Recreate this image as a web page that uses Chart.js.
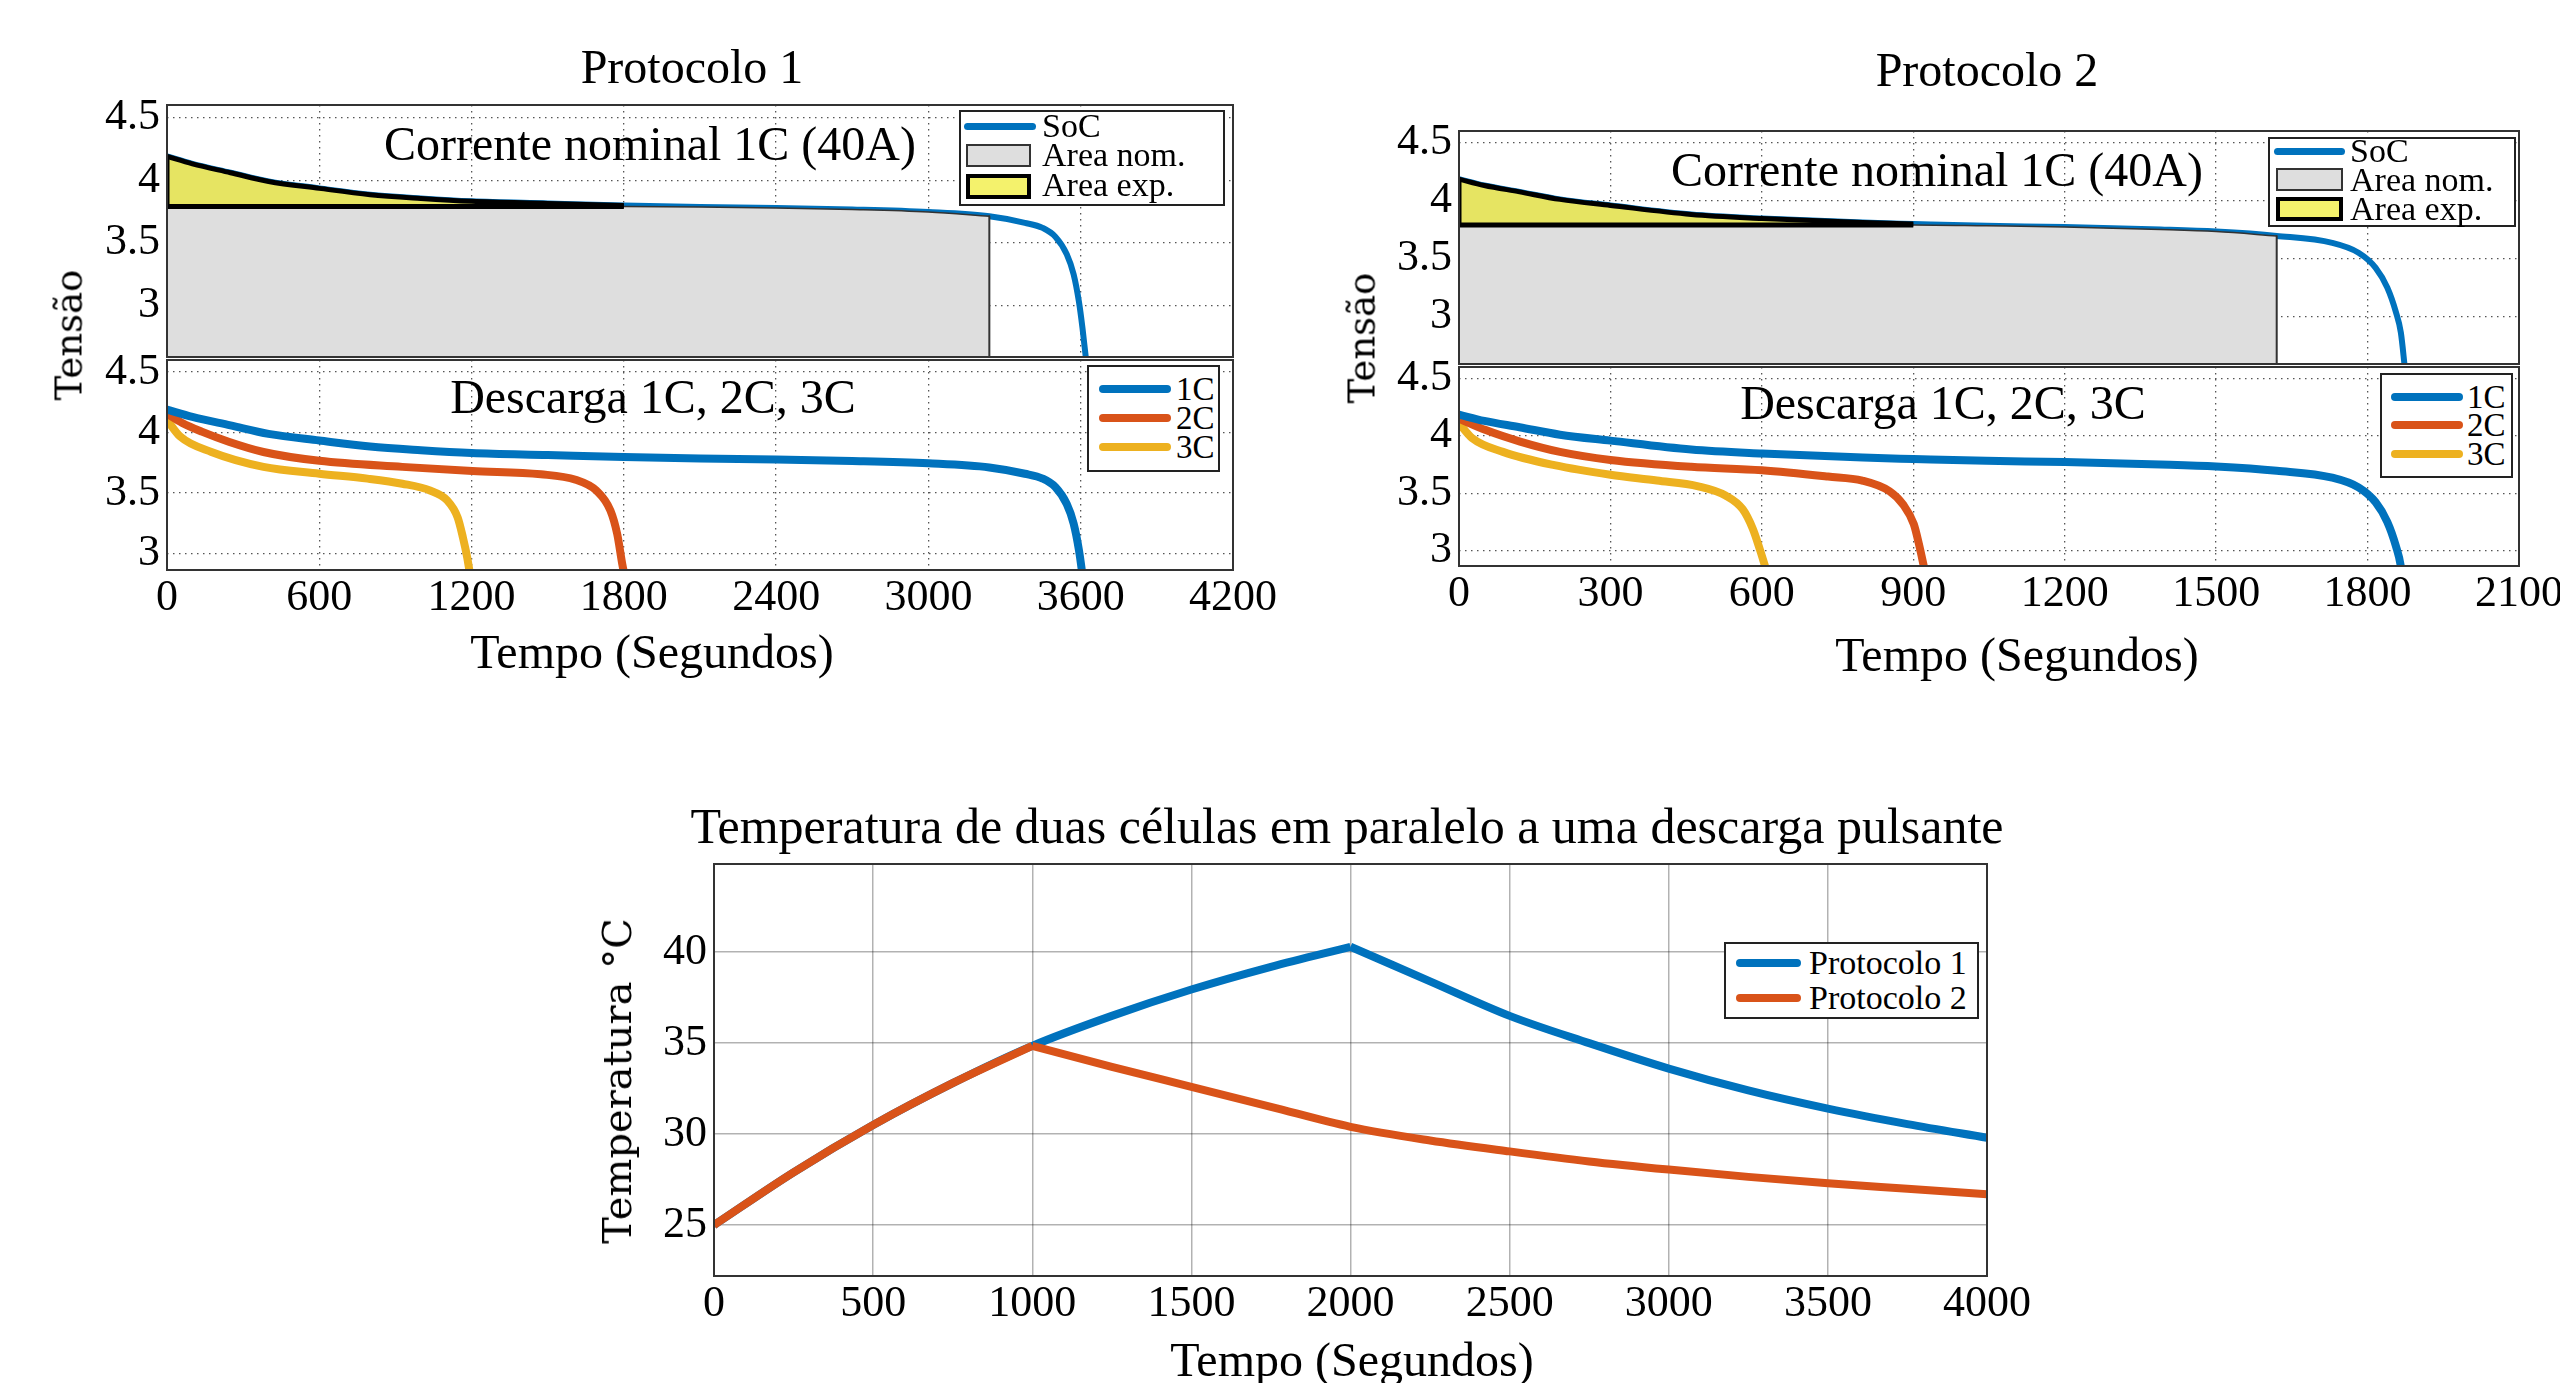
<!DOCTYPE html>
<html>
<head>
<meta charset="utf-8">
<script src="https://cdn.jsdelivr.net/npm/chart.js@4.4.0/dist/chart.umd.min.js"></script>
<style>
html, body { margin: 0; padding: 0; background: #fff; width: 2560px; height: 1383px; overflow: hidden; position: relative; }
canvas { position: absolute; }
.t { position: absolute; transform: translate(-50%, -50%); white-space: nowrap; font-family: 'Liberation Serif', serif; color: #000; line-height: 1; z-index: 5; }
.rot { transform: translate(-50%, -50%) rotate(-90deg); font-family: 'DejaVu Serif', serif; }
.leg { position: absolute; border: 2px solid #222; background: #fff; box-sizing: border-box; z-index: 6; }
.sw { position: absolute; box-sizing: border-box; z-index: 7; }
.lt { position: absolute; transform: translateY(-50%); font-family: 'Liberation Serif', serif; line-height: 1; white-space: nowrap; z-index: 7; }
</style>
</head>
<body>
<script>
// ---- data: Protocolo 1 (tempo em s, tensão em V)
const p1Time1C = [0, 100, 250, 400, 600, 800, 1000, 1200, 1500, 1800, 2100, 2400, 2700, 3000, 3240, 3380, 3450, 3500, 3545, 3572, 3593, 3607, 3622];
const p1Volt1C = [4.19, 4.13, 4.06, 3.99, 3.935, 3.885, 3.855, 3.832, 3.815, 3.798, 3.786, 3.778, 3.766, 3.746, 3.712, 3.66, 3.62, 3.55, 3.41, 3.25, 3.03, 2.82, 2.55];
const p1Time2C = [0, 60, 137, 243, 380, 600, 927, 1203, 1473, 1610, 1692, 1747, 1774, 1794, 1805];
const p1Volt2C = [4.156, 4.08, 4.008, 3.925, 3.84, 3.767, 3.717, 3.683, 3.656, 3.61, 3.52, 3.356, 3.16, 2.91, 2.80];
const p1Time3C = [0, 52, 175, 380, 600, 790, 927, 1036, 1104, 1145, 1166, 1183, 1196];
const p1Volt3C = [4.105, 3.967, 3.84, 3.717, 3.661, 3.62, 3.578, 3.522, 3.44, 3.3, 3.133, 2.967, 2.80];
const p1NomLevel = 3.79;
const p1NomEnd = 3240;
const p1ExpEnd = 1800;
const p1XTicks = [0, 600, 1200, 1800, 2400, 3000, 3600, 4200];

// ---- data: Protocolo 2
const p2Time1C = [0, 50, 120, 200, 300, 460, 600, 800, 900, 1045, 1200, 1390, 1500, 1620, 1730, 1782, 1816, 1839, 1856, 1866, 1874];
const p2Volt1C = [4.185, 4.13, 4.075, 4.01, 3.958, 3.88, 3.845, 3.81, 3.798, 3.782, 3.772, 3.75, 3.732, 3.695, 3.635, 3.55, 3.42, 3.25, 3.04, 2.86, 2.55];
const p2Time2C = [0, 53, 121, 200, 300, 460, 600, 731, 799, 853, 880, 901, 911, 922];
const p2Volt2C = [4.15, 4.05, 3.95, 3.86, 3.79, 3.73, 3.70, 3.645, 3.61, 3.517, 3.40, 3.23, 3.06, 2.84];
const p2Time3C = [0, 26, 87, 189, 300, 392, 474, 528, 562, 582, 596, 608];
const p2Volt3C = [4.11, 3.98, 3.86, 3.744, 3.66, 3.61, 3.56, 3.48, 3.36, 3.19, 3.01, 2.84];
const p2NomLevel = 3.79;
const p2NomEnd = 1620;
const p2ExpEnd = 900;
const p2XTicks = [0, 300, 600, 900, 1200, 1500, 1800, 2100];

const voltTicks = [3, 3.5, 4, 4.5];

// ---- data: temperatura
const tempTime = [0, 250, 500, 750, 1000, 1250, 1500, 1750, 2000, 2250, 2500, 2750, 3000, 3250, 3500, 3750, 4000];
const tempP1 = [25.0, 27.9, 30.5, 32.8, 34.85, 36.5, 37.95, 39.2, 40.3, 38.4, 36.5, 35.0, 33.6, 32.4, 31.4, 30.55, 29.8];
const tempP2 = [25.0, 27.9, 30.5, 32.8, 34.85, 33.7, 32.6, 31.5, 30.4, 29.65, 29.05, 28.5, 28.05, 27.65, 27.3, 27.0, 26.7];
const tempXTicks = [0, 500, 1000, 1500, 2000, 2500, 3000, 3500, 4000];
const tempYTicks = [25, 30, 35, 40];

const BLUE = '#0072BD', ORANGE = '#D95319', GOLD = '#EDB120';
const GRAY_AREA = '#dedede', YELLOW_AREA = '#e6e462';

function curve(ts, vs) {
    return ts.map((t, i) => ({ x: t, y: vs[i] }));
}

// split a series at its maximum so each part can use monotone smoothing
function rising(ts, vs) {
    const k = vs.indexOf(Math.max(...vs));
    return curve(ts, vs).slice(0, k + 1);
}
function falling(ts, vs) {
    const k = vs.indexOf(Math.max(...vs));
    return curve(ts, vs).slice(k);
}

const boxPlugin = {
    id: 'box',
    afterDraw(chart) {
        const a = chart.chartArea;
        const c = chart.ctx;
        c.save();
        c.strokeStyle = '#333';
        c.lineWidth = 2;
        c.strokeRect(a.left, a.top, a.right - a.left, a.bottom - a.top);
        c.restore();
    }
};

const tickFont = { family: "'Liberation Serif', serif", size: 44 };

function makeChart(rect, cfg) {
    const padL = 110, padT = 40, padR = 70;
    const padB = cfg.xLabels ? 75 : 40;
    const cv = document.createElement('canvas');
    cv.width = rect.right - rect.left + padL + padR;
    cv.height = rect.bottom - rect.top + padT + padB;
    cv.style.left = (rect.left - padL) + 'px';
    cv.style.top = (rect.top - padT) + 'px';
    document.body.appendChild(cv);

    const gridOpts = { color: cfg.gridColor, lineWidth: cfg.gridWidth, drawTicks: false };
    return new Chart(cv, {
        type: 'scatter',
        data: { datasets: cfg.datasets },
        options: {
            responsive: false,
            animation: false,
            events: [],
            layout: { padding: { left: 0, top: padT, right: padR, bottom: cfg.xLabels ? 0 : padB } },
            plugins: { legend: { display: false }, tooltip: { enabled: false } },
            scales: {
                x: {
                    type: 'linear',
                    min: cfg.xMin, max: cfg.xMax,
                    afterBuildTicks: s => { s.ticks = cfg.xTicks.map(v => ({ value: v })); },
                    afterFit: s => { s.height = cfg.xLabels ? padB : 0; },
                    ticks: { display: cfg.xLabels, font: tickFont, color: '#000', padding: 2, maxRotation: 0, autoSkip: false, callback: v => String(v) },
                    grid: gridOpts,
                    border: { display: false, dash: cfg.dash }
                },
                y: {
                    type: 'linear',
                    min: cfg.yMin, max: cfg.yMax,
                    afterBuildTicks: s => { s.ticks = cfg.yTicks.map(v => ({ value: v })); },
                    afterFit: s => { s.width = padL; },
                    ticks: { font: tickFont, color: '#000', padding: 7, callback: v => String(v) },
                    grid: gridOpts,
                    border: { display: false, dash: cfg.dash }
                }
            }
        },
        plugins: [boxPlugin]
    });
}

function line(data, color, width, order, smooth) {
    const ds = { data, showLine: true, borderColor: color, borderWidth: width, pointRadius: 0, fill: false, order,
        borderJoinStyle: 'round' };
    if (smooth) ds.cubicInterpolationMode = 'monotone';
    return ds;
}

function topPanel(rect, ts, vs, level, nomEnd, expEnd, xMax, xTicks) {
    const yMin = 2.59;
    const pts = curve(ts, vs);
    const nomTop = pts.filter(p => p.x <= nomEnd).map(p => ({ x: p.x, y: Math.min(p.y, level) }));
    const nomEdge = [nomTop[nomTop.length - 1], { x: nomEnd, y: yMin }];
    const expTop = pts.filter(p => p.x <= expEnd);
    const expBase = [{ x: expEnd, y: level }, { x: 0, y: level }, { x: 0, y: vs[0] }];
    makeChart(rect, {
        xMin: 0, xMax, xTicks, xLabels: false,
        yMin, yMax: 4.6, yTicks: voltTicks,
        gridColor: '#555', gridWidth: 1.3, dash: [1.5, 4.5],
        datasets: [
            line(pts, BLUE, 6, 6, true),
            { data: nomTop, showLine: true, borderColor: '#333', borderWidth: 1.5, cubicInterpolationMode: 'monotone',
              backgroundColor: GRAY_AREA, fill: 'start', pointRadius: 0, order: 5 },
            line(nomEdge, '#333', 2, 4, false),
            { data: expTop, showLine: true, borderWidth: 0, cubicInterpolationMode: 'monotone',
              backgroundColor: YELLOW_AREA, fill: { value: level }, pointRadius: 0, order: 3 },
            line(expTop, '#000', 5, 2, true),
            line(expBase, '#000', 5, 1, false)
        ]
    });
}

function bottomPanel(rect, series, xMax, xTicks) {
    makeChart(rect, {
        xMin: 0, xMax, xTicks, xLabels: true,
        yMin: 2.865, yMax: 4.6, yTicks: voltTicks,
        gridColor: '#555', gridWidth: 1.3, dash: [1.5, 4.5],
        datasets: series.map((s, i) => line(curve(s[0], s[1]), [BLUE, ORANGE, GOLD][i], 8, i + 1, true))
    });
}

// ---- Protocolo 1
topPanel({ left: 167, right: 1233, top: 105, bottom: 357 }, p1Time1C, p1Volt1C, p1NomLevel, p1NomEnd, p1ExpEnd, 4200, p1XTicks);
bottomPanel({ left: 167, right: 1233, top: 360, bottom: 570 },
    [[p1Time1C, p1Volt1C], [p1Time2C, p1Volt2C], [p1Time3C, p1Volt3C]], 4200, p1XTicks);

// ---- Protocolo 2
topPanel({ left: 1459, right: 2519, top: 131, bottom: 364 }, p2Time1C, p2Volt1C, p2NomLevel, p2NomEnd, p2ExpEnd, 2100, p2XTicks);
bottomPanel({ left: 1459, right: 2519, top: 367, bottom: 566 },
    [[p2Time1C, p2Volt1C], [p2Time2C, p2Volt2C], [p2Time3C, p2Volt3C]], 2100, p2XTicks);

// ---- Temperatura
makeChart({ left: 714, right: 1987, top: 864, bottom: 1276 }, {
    xMin: 0, xMax: 4000, xTicks: tempXTicks, xLabels: true,
    yMin: 22.2, yMax: 44.85, yTicks: tempYTicks,
    gridColor: 'rgba(0,0,0,0.3)', gridWidth: 1.5, dash: [],
    datasets: [
        line(rising(tempTime, tempP2), ORANGE, 8, 1, true),
        line(falling(tempTime, tempP2), ORANGE, 8, 2, true),
        line(rising(tempTime, tempP1), BLUE, 8, 3, true),
        line(falling(tempTime, tempP1), BLUE, 8, 4, true)
    ]
});

// ---- textos
function text(str, x, y, size, cls) {
    const d = document.createElement('div');
    d.className = 't' + (cls ? ' ' + cls : '');
    d.textContent = str;
    d.style.left = x + 'px';
    d.style.top = y + 'px';
    d.style.fontSize = size + 'px';
    document.body.appendChild(d);
}

text('Protocolo 1', 692, 67, 48);
text('Protocolo 2', 1987, 70, 48);
text('Corrente nominal 1C (40A)', 650, 144, 48);
text('Corrente nominal 1C (40A)', 1937, 170, 48);
text('Descarga 1C, 2C, 3C', 653, 397, 48);
text('Descarga 1C, 2C, 3C', 1943, 403, 48);
text('Tempo (Segundos)', 652, 652, 48);
text('Tempo (Segundos)', 2017, 655, 48);
text('Tensão', 69, 335, 37, 'rot');
text('Tensão', 1362, 338, 37, 'rot');
text('Temperatura de duas células em paralelo a uma descarga pulsante', 1347, 826, 50);
text('Tempo (Segundos)', 1352, 1360, 48);
text('Temperatura °C', 617, 1081, 40, 'rot');

// ---- legendas
function el(cls, css) {
    const d = document.createElement('div');
    d.className = cls;
    Object.assign(d.style, css);
    document.body.appendChild(d);
    return d;
}

function legend(box, items, size) {
    el('leg', { left: box.l + 'px', top: box.t + 'px', width: (box.r - box.l) + 'px', height: (box.b - box.t) + 'px' });
    items.forEach(it => {
        if (it.kind === 'line') {
            el('sw', { left: it.x1 + 'px', top: (it.y - it.w / 2) + 'px', width: (it.x2 - it.x1) + 'px', height: it.w + 'px',
                background: it.color, borderRadius: (it.w / 2) + 'px' });
        } else {
            el('sw', { left: it.x1 + 'px', top: it.y1 + 'px', width: (it.x2 - it.x1) + 'px', height: (it.y2 - it.y1) + 'px',
                background: it.color, border: it.bw + 'px solid ' + it.bc });
        }
        const t = el('lt', { left: it.tx + 'px', top: it.ty + 'px', fontSize: size + 'px' });
        t.textContent = it.label;
    });
}

legend({ l: 959, t: 110, r: 1225, b: 206 }, [
    { kind: 'line', x1: 964, x2: 1036, y: 126, w: 7, color: BLUE, tx: 1042, ty: 126, label: 'SoC' },
    { kind: 'rect', x1: 966, x2: 1031, y1: 144, y2: 167, color: GRAY_AREA, bw: 2, bc: '#333', tx: 1042, ty: 155, label: 'Area nom.' },
    { kind: 'rect', x1: 966, x2: 1031, y1: 174, y2: 199, color: '#f4f26c', bw: 4, bc: '#000', tx: 1042, ty: 185, label: 'Area exp.' }
], 34);

legend({ l: 2268, t: 137, r: 2516, b: 227 }, [
    { kind: 'line', x1: 2274, x2: 2345, y: 151, w: 7, color: BLUE, tx: 2350, ty: 151, label: 'SoC' },
    { kind: 'rect', x1: 2276, x2: 2343, y1: 168, y2: 191, color: GRAY_AREA, bw: 2, bc: '#333', tx: 2350, ty: 180, label: 'Area nom.' },
    { kind: 'rect', x1: 2276, x2: 2343, y1: 197, y2: 221, color: '#f4f26c', bw: 4, bc: '#000', tx: 2350, ty: 209, label: 'Area exp.' }
], 34);

legend({ l: 1087, t: 365, r: 1220, b: 472 }, [
    { kind: 'line', x1: 1099, x2: 1171, y: 389, w: 8, color: BLUE, tx: 1176, ty: 389, label: '1C' },
    { kind: 'line', x1: 1099, x2: 1171, y: 418, w: 8, color: ORANGE, tx: 1176, ty: 418, label: '2C' },
    { kind: 'line', x1: 1099, x2: 1171, y: 447, w: 8, color: GOLD, tx: 1176, ty: 447, label: '3C' }
], 33);

legend({ l: 2380, t: 373, r: 2513, b: 478 }, [
    { kind: 'line', x1: 2391, x2: 2463, y: 397, w: 8, color: BLUE, tx: 2467, ty: 397, label: '1C' },
    { kind: 'line', x1: 2391, x2: 2463, y: 425, w: 8, color: ORANGE, tx: 2467, ty: 425, label: '2C' },
    { kind: 'line', x1: 2391, x2: 2463, y: 454, w: 8, color: GOLD, tx: 2467, ty: 454, label: '3C' }
], 33);

legend({ l: 1724, t: 942, r: 1979, b: 1019 }, [
    { kind: 'line', x1: 1736, x2: 1801, y: 963, w: 8, color: BLUE, tx: 1809, ty: 963, label: 'Protocolo 1' },
    { kind: 'line', x1: 1736, x2: 1801, y: 998, w: 8, color: ORANGE, tx: 1809, ty: 998, label: 'Protocolo 2' }
], 34);
</script>
</body>
</html>
